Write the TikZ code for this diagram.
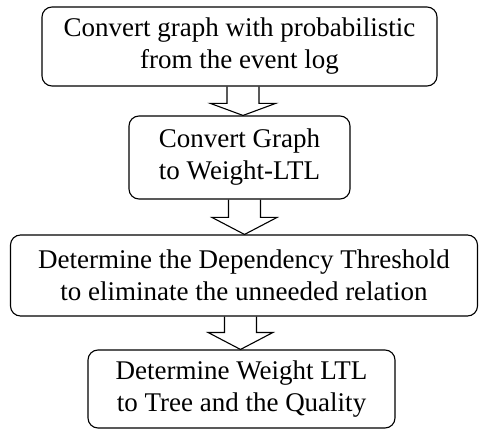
\documentclass[tikz,border=0pt]{standalone}
\usepackage{fontspec}
\setmainfont{Liberation Serif}
\usetikzlibrary{calc}

\tikzset{
  stage/.style={draw, line width=1.1pt, rounded corners=10pt, align=center,
    inner sep=0pt, font=\fontsize{27}{32}\selectfont},
  hollow/.style={draw, line width=1.1pt, line join=miter},
}
% open-topped block arrow from #1 down to #2, head length #3
\newcommand\hollowarrow[3]{%
  \draw[hollow] ($(#1)+(-16pt,0)$) -- ($(#2)+(-16pt,#3)$) -- ($(#2)+(-32.5pt,#3)$)
    -- (#2) -- ($(#2)+(32.5pt,#3)$) -- ($(#2)+(16pt,#3)$) -- ($(#1)+(16pt,0)$);}

\begin{document}
\begin{tikzpicture}[x=1pt,y=1pt]
  \useasboundingbox (0,0) rectangle (479,-430);

  \node[stage, minimum width=395pt, minimum height=79pt] (b1) at (239.5,-46.5)
    {Convert graph with probabilistic\\from the event log};
  \node[stage, minimum width=221pt, minimum height=83pt] (b2) at (239.5,-157.5)
    {Convert Graph\\to Weight-LTL};
  \node[stage, minimum width=467pt, minimum height=81pt] (b3) at (244,-275.5)
    {Determine the Dependency Threshold\\to eliminate the unneeded relation};
  \node[stage, minimum width=307pt, minimum height=78pt] (b4) at (241.5,-389)
    {Determine Weight LTL\\to Tree and the Quality};

  \coordinate (x1) at (243,0);
  \coordinate (x2) at (244.5,0);
  \coordinate (x3) at (240.5,0);

  \coordinate (s1) at (b1.south -| x1);
  \coordinate (e1) at (b2.north -| x1);
  \coordinate (s2) at (b2.south -| x2);
  \coordinate (e2) at (b3.north -| x2);
  \coordinate (s3) at (b3.south -| x3);
  \coordinate (e3) at (b4.north -| x3);

  \hollowarrow{s1}{e1}{12pt}
  \hollowarrow{s2}{e2}{17pt}
  \hollowarrow{s3}{e3}{17pt}
\end{tikzpicture}
\end{document}
